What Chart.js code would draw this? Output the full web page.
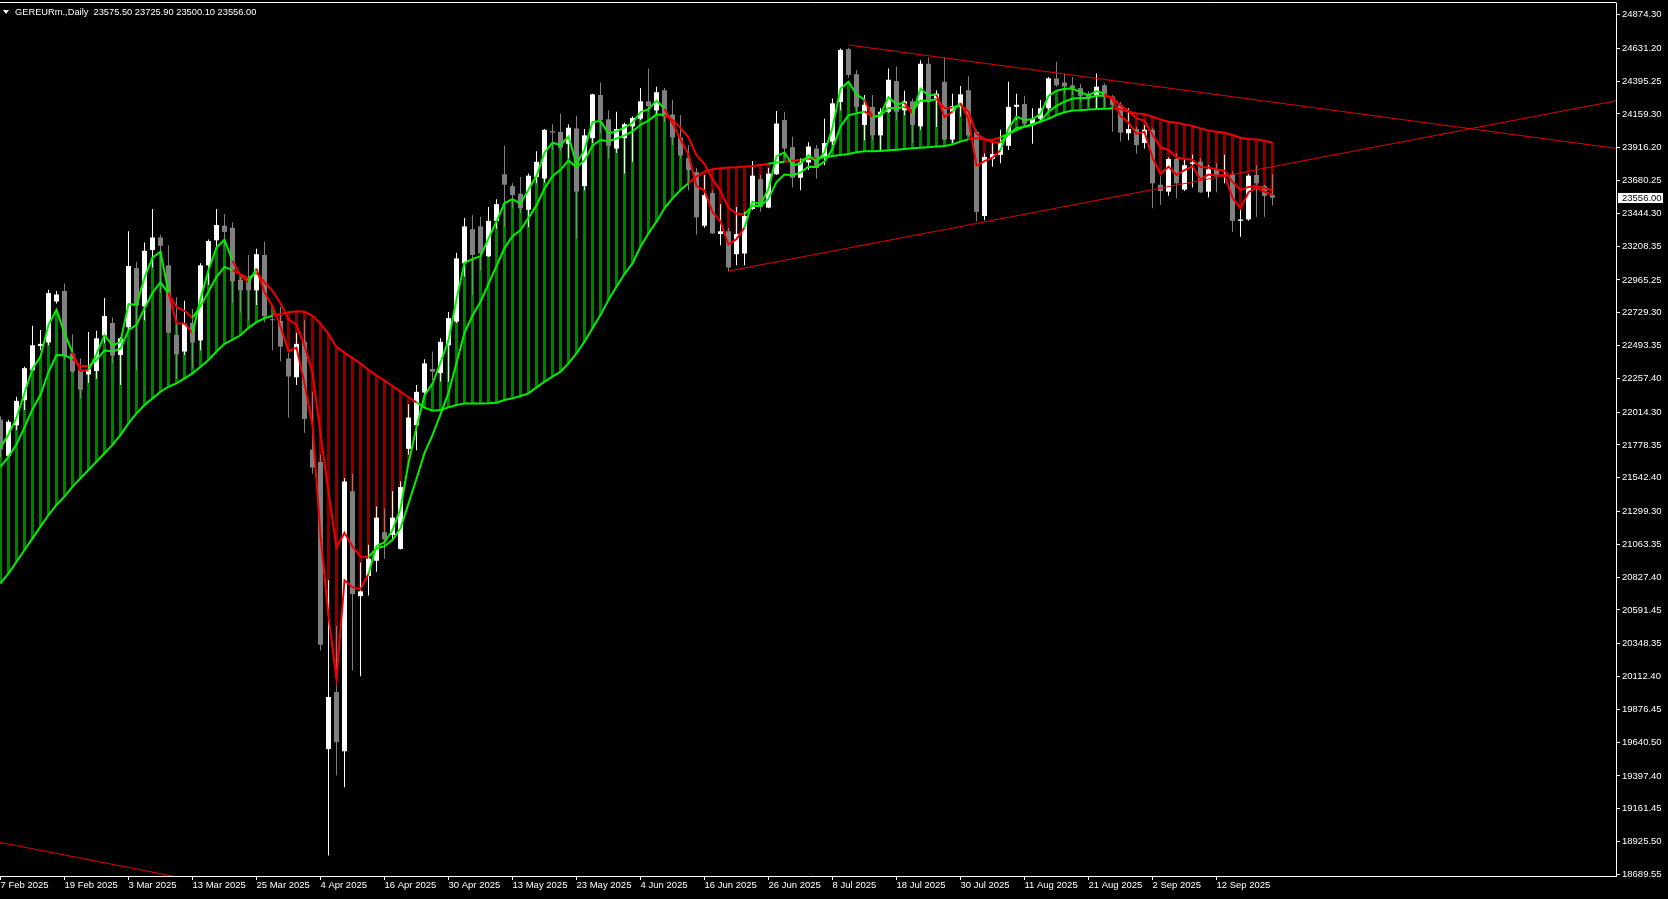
<!DOCTYPE html>
<html>
<head>
<meta charset="utf-8">
<title>GEREURm Daily</title>
<script src="https://cdn.jsdelivr.net/npm/chart.js@4/dist/chart.umd.min.js"></script>
<style>
  html, body { margin: 0; padding: 0; background: #000; overflow: hidden; }
  #chart { display: block; }
</style>
</head>
<body>
<canvas id="chart" width="1668" height="899"></canvas>
<script>
// --- data ---
const symbolTitle = 'GEREURm.,Daily  23575.50 23725.90 23500.10 23556.00';

const tickDates = ['7 Feb 2025', '19 Feb 2025', '3 Mar 2025', '13 Mar 2025', '25 Mar 2025',
    '4 Apr 2025', '16 Apr 2025', '30 Apr 2025', '13 May 2025', '23 May 2025', '4 Jun 2025',
    '16 Jun 2025', '26 Jun 2025', '8 Jul 2025', '18 Jul 2025', '30 Jul 2025', '11 Aug 2025',
    '21 Aug 2025', '2 Sep 2025', '12 Sep 2025'];
const tickBars = [0, 8, 16, 24, 32, 40, 48, 56, 64, 72, 80, 88, 96, 104, 112, 120, 128, 136, 144, 152];

const priceTicks = [24874.30, 24631.20, 24395.25, 24159.30, 23916.20, 23680.25, 23444.30,
    23208.35, 22965.25, 22729.30, 22493.35, 22257.40, 22014.30, 21778.35, 21542.40, 21299.30,
    21063.35, 20827.40, 20591.45, 20348.35, 20112.40, 19876.45, 19640.50, 19397.40, 19161.45,
    18925.50, 18689.55];

const opens = [
    21960, 21700, 21920, 22100, 22315, 22490, 22515, 22810, 22885, 22435,
    22320, 22285, 22310, 22565, 22655, 22425, 22625, 23050, 22775, 23180,
    23270, 23070, 22570, 22450, 22655, 22530, 23070, 23250, 23355, 23340,
    22965, 22975, 22890, 23145, 22680, 22670, 22400, 22265, 22520, 21745,
    21655, 19590, 20000, 19575, 21445, 20690, 20835, 20945, 21150, 21130,
    21030, 21750, 21920, 22155, 22325, 22295, 22495, 22665, 23085, 23330,
    23350, 23135, 23390, 23725, 23640, 23585, 23470, 23705, 23695, 24035,
    24030, 23945, 24055, 23640, 23985, 24295, 24120, 23910, 23985, 24070,
    24125, 24250, 24185, 24330, 24155, 23990, 23840, 23740, 23355, 23590,
    23295, 23315, 23150, 23155, 23475, 23690, 23485, 23725, 24115, 23920,
    23700, 23810, 23910, 23845, 23960, 24245, 24625, 24445, 24080, 24210,
    24005, 24175, 24395, 24185, 24250, 24070, 24520, 24270, 24390, 23975,
    24210, 24330, 24030, 23425, 23835, 23865, 23930, 24210, 24230, 24080,
    24125, 24200, 24415, 24385, 24365, 24345, 24305, 24295, 24365, 24285,
    24225, 24020, 24050, 23950, 24045, 23650, 23600, 23835, 23615, 23800,
    23815, 23600, 23760, 23715, 23725, 23390, 23400, 23720, 23640, 23575.5];

const highs = [
    21985, 21960, 22125, 22340, 22635, 22605, 22895, 22885, 22940, 22575,
    22400, 22590, 22600, 22835, 22695, 22555, 23315, 23095, 23235, 23475,
    23290, 23215, 22840, 22815, 22755, 23085, 23255, 23475, 23440, 23380,
    23000, 23145, 23190, 23240, 22725, 22770, 22440, 22585, 22675, 22160,
    21710, 20805, 20475, 21540, 21570, 20930, 21060, 21335, 21320, 21445,
    21515, 22070, 22210, 22395, 22450, 22545, 22735, 23160, 23410, 23430,
    23420, 23490, 23545, 23930, 23660, 23705, 23730, 23890, 24050, 24085,
    24160, 24085, 24145, 24050, 24305, 24385, 24185, 24175, 24095, 24140,
    24345, 24485, 24355, 24345, 24260, 24150, 23935, 23770, 23720, 23610,
    23510, 23340, 23490, 23455, 23820, 23720, 23770, 24180, 24175, 23995,
    23840, 23955, 23935, 24125, 24270, 24630, 24635, 24475, 24295, 24295,
    24200, 24485, 24500, 24325, 24270, 24545, 24565, 24330, 24565, 24305,
    24360, 24430, 24045, 23875, 23960, 24045, 24390, 24305, 24290, 24200,
    24260, 24425, 24535, 24450, 24425, 24375, 24320, 24450, 24380, 24295,
    24245, 24200, 24065, 24080, 24055, 23710, 23845, 23875, 23830, 23865,
    23840, 23790, 23805, 23865, 23745, 23475, 23725, 23790, 23650, 23725.9];

const lows = [
    21690, 21690, 21885, 22030, 22305, 22460, 22495, 22795, 22390, 22295,
    22115, 22225, 22255, 22510, 22365, 22210, 22605, 22315, 22675, 23055,
    22870, 22580, 22255, 22425, 22330, 22460, 22930, 23205, 23205, 22800,
    22730, 22675, 22785, 22660, 22460, 22380, 21975, 22210, 21865, 21570,
    20300, 18825, 19400, 19315, 20155, 20115, 20695, 20865, 20960, 21085,
    21025, 21710, 21740, 22115, 22245, 22235, 22235, 22655, 22990, 22855,
    23035, 23130, 23335, 23350, 23485, 23445, 23345, 23660, 23665, 23900,
    23890, 23840, 23265, 23610, 23950, 24020, 23840, 23880, 23730, 23815,
    24115, 24175, 24150, 24100, 23935, 23840, 23610, 23290, 23340, 23295,
    23215, 23025, 23070, 23070, 23470, 23455, 23480, 23720, 23840, 23630,
    23610, 23755, 23695, 23790, 23935, 24185, 24420, 24175, 23970, 23970,
    23900, 24165, 24115, 24150, 23950, 24045, 24235, 24065, 23970, 23950,
    24140, 23995, 23385, 23395, 23780, 23805, 23900, 24115, 24065, 23945,
    24105, 24185, 24355, 24305, 24295, 24245, 24210, 24200, 24210, 24030,
    23960, 23970, 23875, 23910, 23480, 23505, 23570, 23550, 23605, 23630,
    23590, 23560, 23595, 23660, 23310, 23275, 23390, 23420, 23420, 23500.1];

const closes = [
    21745, 21945, 22095, 22330, 22495, 22505, 22870, 22860, 22415, 22305,
    22175, 22325, 22545, 22705, 22420, 22545, 23065, 22780, 23175, 23270,
    23210, 22585, 22430, 22650, 22515, 23070, 23245, 23360, 23310, 22955,
    22890, 22890, 23150, 22705, 22675, 22485, 22270, 22505, 21965, 21615,
    20340, 19965, 19640, 21515, 20705, 20725, 20960, 21255, 21100, 21255,
    21475, 21975, 22160, 22365, 22305, 22520, 22690, 23120, 23350, 23145,
    23155, 23390, 23510, 23650, 23575, 23480, 23715, 23815, 24045, 24025,
    23915, 24060, 23600, 24005, 24300, 24115, 23930, 24050, 24085, 24130,
    24250, 24215, 24315, 24140, 23990, 23860, 23755, 23415, 23575, 23300,
    23315, 23055, 23295, 23425, 23715, 23490, 23730, 24090, 23910, 23700,
    23810, 23925, 23770, 23950, 24235, 24620, 24440, 24210, 24225, 24005,
    24175, 24405, 24175, 24250, 24080, 24520, 24245, 24305, 23975, 24215,
    24300, 24005, 23455, 23850, 23870, 23950, 24210, 24225, 24090, 24125,
    24200, 24415, 24365, 24355, 24345, 24290, 24270, 24355, 24285, 24225,
    24025, 24050, 23935, 24045, 23660, 23605, 23835, 23660, 23790, 23810,
    23595, 23760, 23710, 23725, 23390, 23400, 23715, 23660, 23570, 23556];

// fast average (closest to price)
const fastMA = [
    21760, 21852, 21974, 22152, 22324, 22414, 22642, 22751, 22583, 22444,
    22310, 22317, 22431, 22568, 22494, 22520, 22792, 22786, 22980, 23125,
    23168, 22876, 22653, 22652, 22583, 22827, 23036, 23198, 23254, 23104,
    22997, 22944, 23047, 22876, 22776, 22630, 22450, 22478, 22221, 21918,
    21129, 20547, 20094, 20804, 20755, 20740, 20850, 21052, 21076, 21166,
    21320, 21648, 21904, 22134, 22220, 22370, 22530, 22825, 23088, 23116,
    23136, 23263, 23386, 23518, 23546, 23513, 23614, 23714, 23880, 23952,
    23934, 23997, 23798, 23902, 24101, 24108, 24019, 24034, 24060, 24095,
    24172, 24194, 24254, 24197, 24094, 23977, 23866, 23640, 23608, 23454,
    23384, 23220, 23258, 23341, 23528, 23509, 23620, 23855, 23882, 23791,
    23800, 23862, 23816, 23883, 24059, 24340, 24390, 24300, 24262, 24134,
    24154, 24280, 24228, 24239, 24160, 24340, 24292, 24298, 24136, 24176,
    24238, 24122, 23788, 23819, 23844, 23897, 24054, 24140, 24115, 24120,
    24160, 24288, 24326, 24340, 24342, 24316, 24293, 24324, 24304, 24264,
    24144, 24097, 24016, 24030, 23845, 23725, 23780, 23720, 23755, 23782,
    23688, 23724, 23717, 23721, 23556, 23478, 23596, 23628, 23599, 23578];

// middle average
const midMA = [
    21620, 21692, 21782, 21904, 22035, 22139, 22301, 22425, 22423, 22397,
    22348, 22343, 22388, 22458, 22450, 22471, 22603, 22642, 22760, 22873,
    22948, 22867, 22770, 22743, 22692, 22776, 22880, 22987, 23059, 23036,
    23004, 22979, 23017, 22948, 22887, 22798, 22681, 22642, 22492, 22297,
    21862, 21440, 21040, 21146, 21048, 20976, 20972, 21035, 21049, 21095,
    21179, 21356, 21535, 21719, 21849, 21998, 22152, 22367, 22585, 22709,
    22808, 22937, 23064, 23194, 23279, 23324, 23411, 23501, 23622, 23712,
    23757, 23824, 23774, 23825, 23931, 23972, 23963, 23982, 24005, 24033,
    24081, 24111, 24156, 24152, 24116, 24059, 23991, 23863, 23799, 23688,
    23605, 23483, 23441, 23437, 23499, 23497, 23549, 23669, 23723, 23718,
    23738, 23780, 23778, 23816, 23909, 24067, 24150, 24163, 24177, 24139,
    24147, 24204, 24198, 24210, 24181, 24256, 24254, 24265, 24201, 24204,
    24225, 24176, 24016, 23979, 23955, 23954, 24011, 24059, 24066, 24079,
    24106, 24175, 24217, 24248, 24270, 24274, 24273, 24291, 24290, 24276,
    24220, 24182, 24127, 24109, 24009, 23919, 23900, 23847, 23834, 23829,
    23777, 23773, 23759, 23751, 23671, 23611, 23634, 23640, 23624, 23609];

// slow average
const slowMA = [
    20782, 20854, 20938, 21022, 21106, 21190, 21274, 21346, 21406, 21478,
    21538, 21598, 21658, 21718, 21778, 21850, 21933, 22005, 22065, 22113,
    22161, 22197, 22221, 22257, 22293, 22341, 22389, 22450, 22505, 22536,
    22567, 22620, 22661, 22689, 22707, 22720, 22732, 22739, 22736, 22707,
    22651, 22577, 22483, 22442, 22402, 22364, 22318, 22277, 22240, 22202,
    22162, 22121, 22084, 22046, 22024, 22029, 22048, 22065, 22077, 22077,
    22077, 22078, 22082, 22101, 22113, 22130, 22149, 22192, 22233, 22269,
    22305, 22365, 22437, 22521, 22617, 22712, 22820, 22916, 23007, 23084,
    23204, 23300, 23384, 23480, 23552, 23612, 23660, 23708, 23744, 23761,
    23768, 23773, 23775, 23780, 23785, 23792, 23800, 23809, 23815, 23823,
    23830, 23835, 23840, 23847, 23857, 23864, 23871, 23883, 23890, 23890,
    23893, 23897, 23902, 23907, 23912, 23915, 23919, 23924, 23928, 23940,
    23960, 23976, 23984, 23976, 23972, 23991, 24015, 24043, 24068, 24087,
    24103, 24123, 24151, 24171, 24184, 24185, 24190, 24194, 24197, 24199,
    24192, 24175, 24163, 24156, 24139, 24120, 24103, 24096, 24084, 24072,
    24055, 24039, 24031, 24024, 24007, 23988, 23979, 23976, 23967, 23952];

// trend lines: [bar, price] anchors
const upperLine = [[106, 24655], [202, 23911]];
const lowerLine = [[91, 23029], [202, 24254]];
const oldLine = [[-20, 19142], [25, 18638]];

// --- styling ---
const WHITE = '#ffffff';
const GRAY = '#808080';
const LIME = '#00f000';
const RED = '#f00000';
const HATCH_UP = '#008000';
const HATCH_DN = '#860000';
const FONT = { family: 'Liberation Sans', size: 9.5 };

const bars = closes.map((_, i) => i);
const isUp = bars.map(i => closes[i] >= opens[i]);
const fastAbove = bars.map(i => fastMA[i] >= midMA[i]);
const trendUp = bars.map(i => fastMA[i] >= slowMA[i]);
const candleColor = bars.map(i => isUp[i] ? WHITE : GRAY);

function maLine(label, values, upFlags, order) {
    return {
        type: 'line',
        label: label,
        data: bars.map(i => ({ x: i, y: values[i] })),
        borderWidth: 2,
        pointRadius: 0,
        tension: 0,
        borderColor: LIME,
        segment: {
            borderColor: c => upFlags[c.p1DataIndex] ? LIME : RED
        },
        order: order
    };
}

function trendLine(label, pts) {
    return {
        type: 'line',
        label: label,
        data: pts.map(p => ({ x: p[0], y: p[1] })),
        borderColor: '#e00000',
        borderWidth: 1,
        pointRadius: 0,
        order: 1
    };
}

const overlay = {
    id: 'overlay',
    afterDraw(chart) {
        const ctx = chart.ctx;
        const area = chart.chartArea;
        ctx.save();
        // top frame line
        ctx.strokeStyle = WHITE;
        ctx.lineWidth = 1;
        ctx.beginPath();
        ctx.moveTo(0, area.top - 0.5);
        ctx.lineTo(area.right + 0.5, area.top - 0.5);
        ctx.stroke();

        // symbol caption
        ctx.fillStyle = WHITE;
        ctx.beginPath();
        ctx.moveTo(3, 10);
        ctx.lineTo(9, 10);
        ctx.lineTo(6, 14);
        ctx.closePath();
        ctx.fill();
        ctx.font = '9.3px "Liberation Sans"';
        ctx.textBaseline = 'alphabetic';
        ctx.textAlign = 'left';
        ctx.fillText(symbolTitle, 15, 15);

        // last price box
        const last = closes[closes.length - 1];
        const y = Math.round(chart.scales.y.getPixelForValue(last));
        ctx.fillStyle = WHITE;
        ctx.fillRect(area.right + 2, y - 5, 45, 10);
        ctx.fillStyle = '#000000';
        ctx.textBaseline = 'middle';
        ctx.font = '9.5px "Liberation Sans"';
        ctx.fillText(last.toFixed(2), area.right + 6, y + 0.5);
        ctx.restore();
    }
};

new Chart(document.getElementById('chart'), {
    type: 'bar',
    data: {
        datasets: [
            {
                label: 'fill',
                data: bars.map(i => ({ x: i, y: [fastMA[i], slowMA[i]] })),
                backgroundColor: bars.map(i => trendUp[i] ? HATCH_UP : HATCH_DN),
                barThickness: 3,
                order: 9
            },
            {
                label: 'wicks',
                data: bars.map(i => ({ x: i, y: [lows[i], highs[i]] })),
                backgroundColor: candleColor,
                barThickness: 1,
                order: 8
            },
            {
                label: 'bodies',
                data: bars.map(i => ({ x: i, y: [opens[i], closes[i]] })),
                backgroundColor: candleColor,
                barThickness: 5,
                minBarLength: 1,
                order: 7
            },
            maLine('slow', slowMA, trendUp, 4),
            maLine('mid', midMA, fastAbove, 3),
            maLine('fast', fastMA, fastAbove, 2),
            trendLine('upper', upperLine),
            trendLine('lower', lowerLine),
            trendLine('old', oldLine)
        ]
    },
    options: {
        responsive: false,
        animation: false,
        devicePixelRatio: 1,
        events: [],
        layout: { padding: { top: 3, left: 0, right: 0, bottom: 0 } },
        datasets: {
            bar: { grouped: false, borderWidth: 0, inflateAmount: 0 }
        },
        plugins: {
            legend: { display: false },
            tooltip: { enabled: false },
            title: { display: false }
        },
        scales: {
            x: {
                type: 'linear',
                min: -0.0625,
                max: 201.9375,
                offset: false,
                bounds: 'data',
                grid: { drawOnChartArea: false, drawTicks: true, tickLength: 4, color: WHITE, offset: false },
                border: { display: true, color: WHITE, width: 1 },
                ticks: {
                    autoSkip: false,
                    maxRotation: 0,
                    minRotation: 0,
                    align: 'start',
                    padding: 0,
                    color: WHITE,
                    font: FONT,
                    callback: (v, i) => tickDates[i]
                },
                afterBuildTicks: s => { s.ticks = tickBars.map(v => ({ value: v })); },
                afterFit: s => { s.height = 23; s.paddingLeft = 0; s.paddingRight = 0; }
            },
            y: {
                type: 'linear',
                position: 'right',
                min: 18677.3,
                max: 24957.0,
                bounds: 'data',
                grid: { drawOnChartArea: false, drawTicks: true, tickLength: 4, color: WHITE },
                border: { display: true, color: WHITE, width: 1 },
                ticks: {
                    padding: 2,
                    color: WHITE,
                    font: FONT,
                    crossAlign: 'near',
                    callback: v => v.toFixed(2)
                },
                afterBuildTicks: s => { s.ticks = priceTicks.map(v => ({ value: v })); },
                afterFit: s => { s.width = 52; s.paddingTop = 0; s.paddingBottom = 0; }
            }
        }
    },
    plugins: [overlay]
});
</script>
</body>
</html>
